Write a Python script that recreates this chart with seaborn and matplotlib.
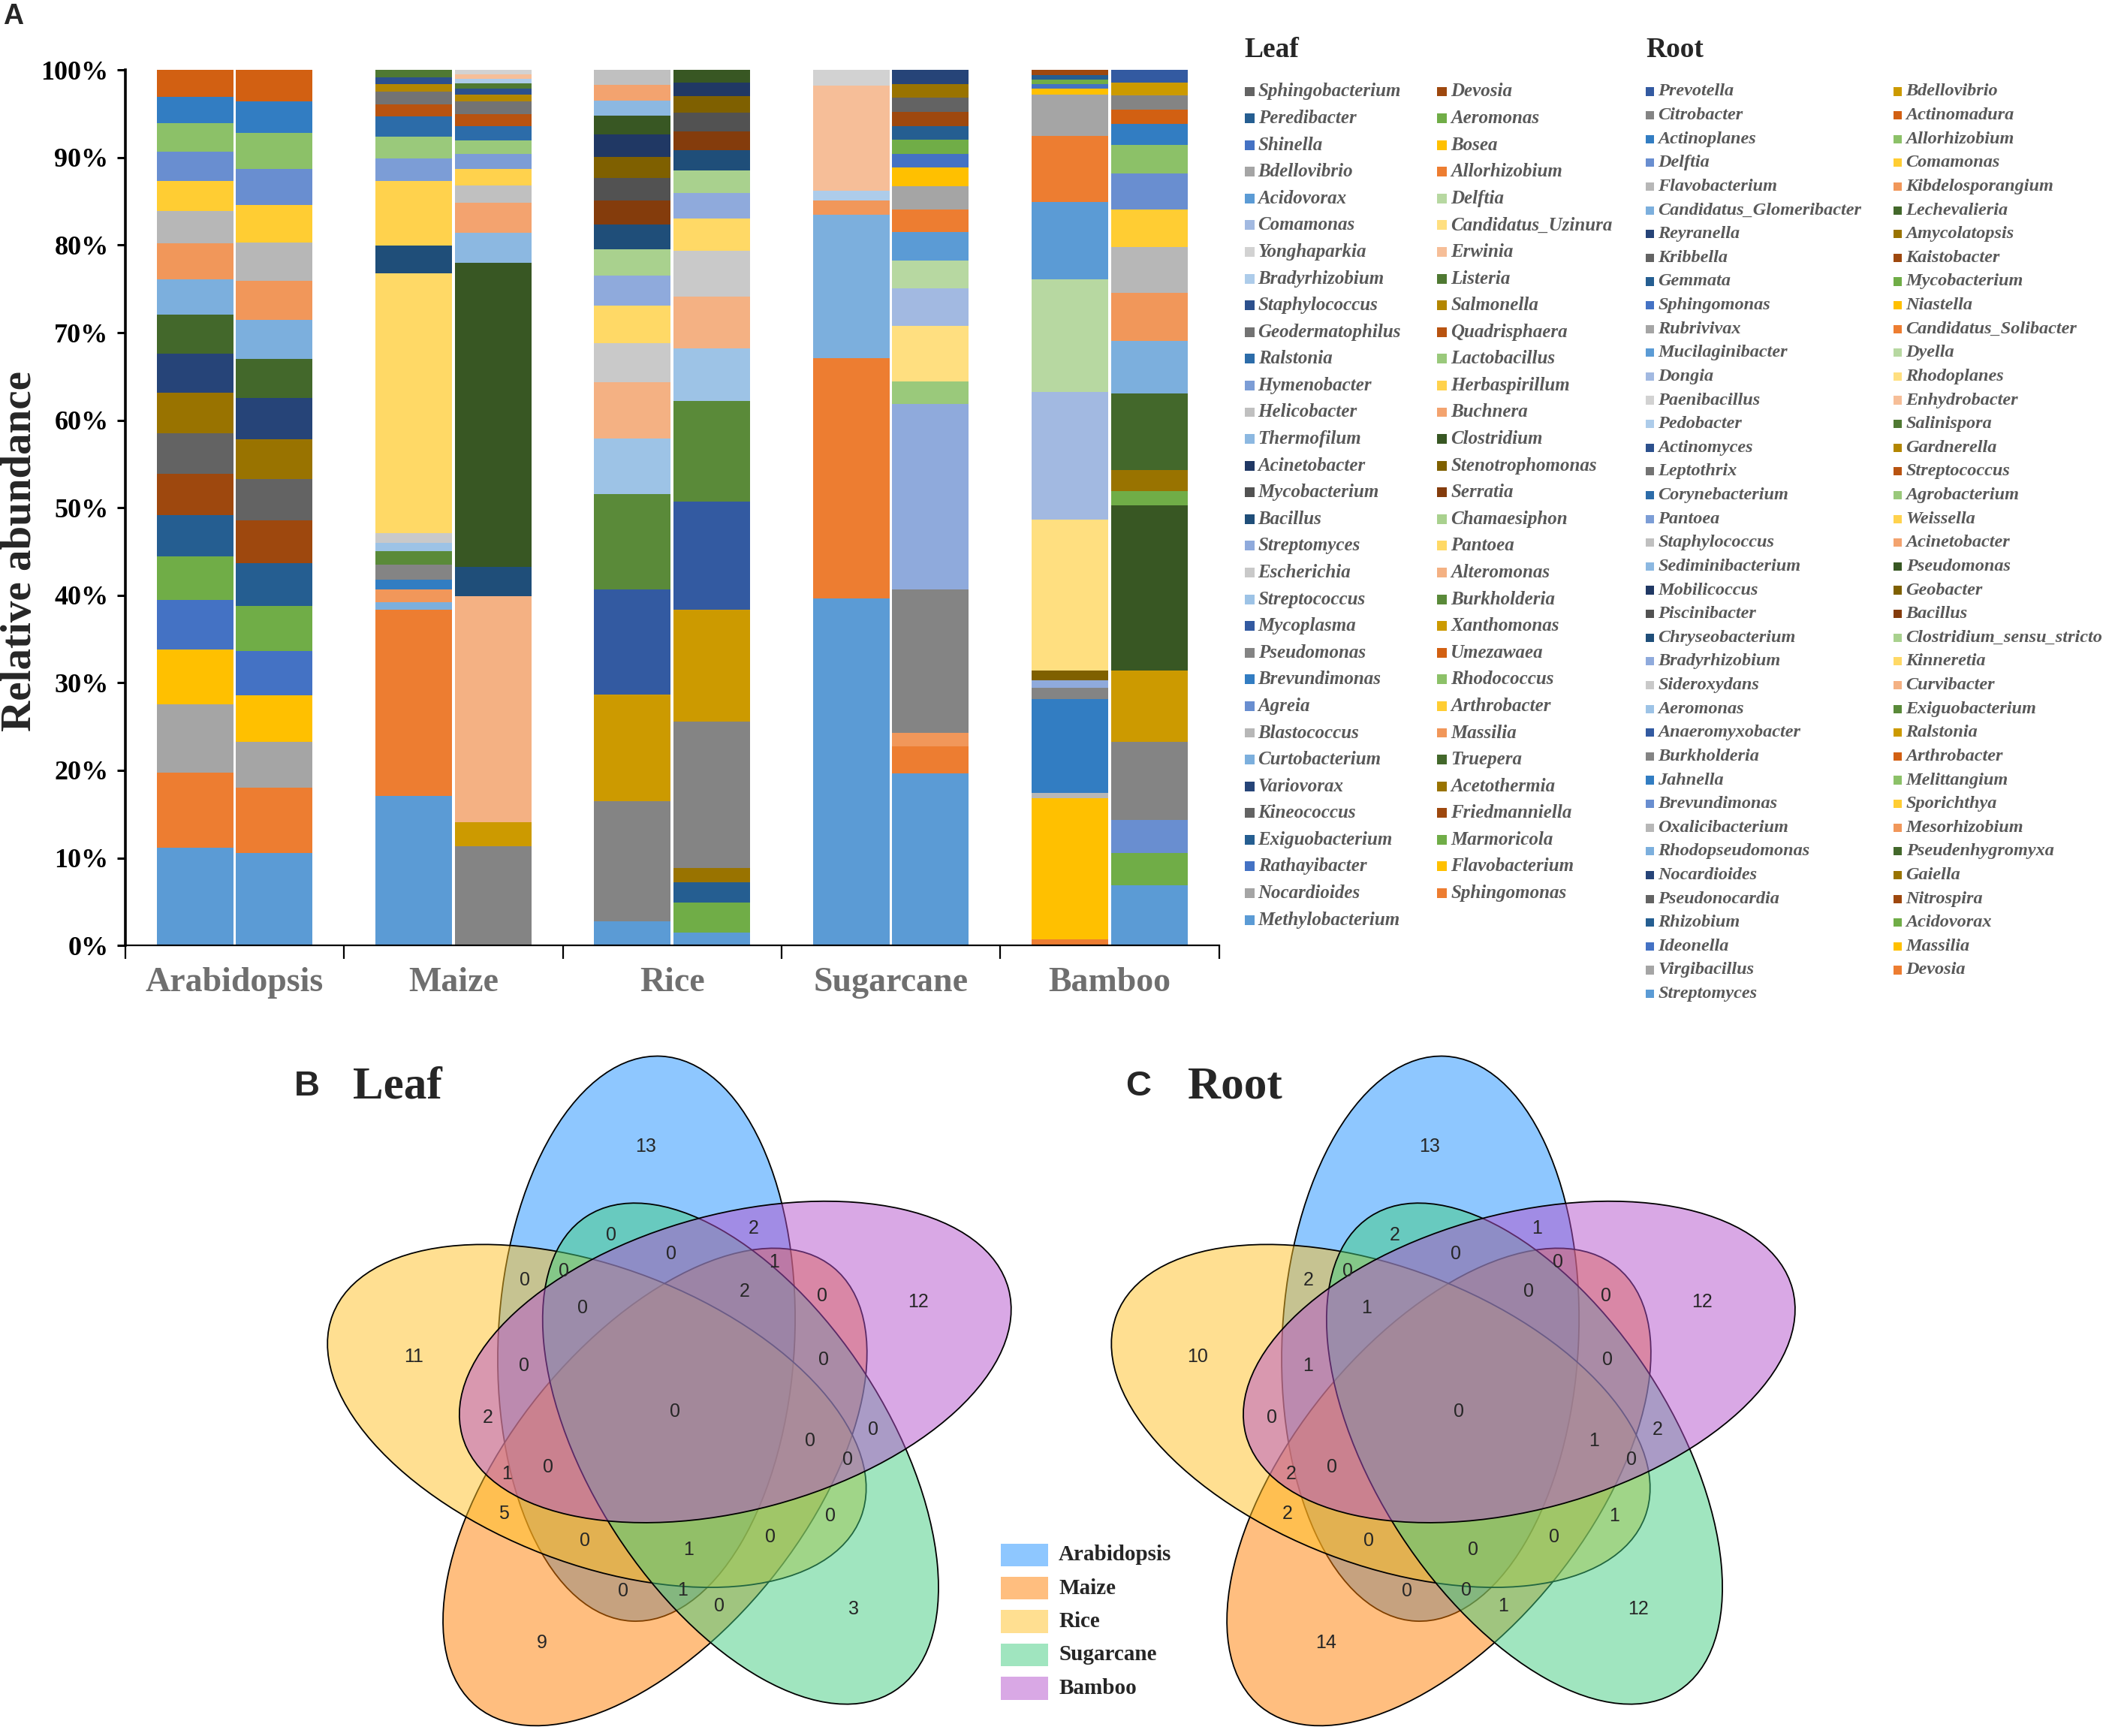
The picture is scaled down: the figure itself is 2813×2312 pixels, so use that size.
import numpy as np
import pandas as pd
import matplotlib
matplotlib.use("Agg")
import matplotlib.pyplot as plt
from matplotlib.patches import Ellipse, Rectangle
from matplotlib.colors import to_rgba
import seaborn as sns

# ------------------------------------------------------------------ data
plants = ["Arabidopsis", "Maize", "Rice", "Sugarcane", "Bamboo"]

# genera in stacking order (first one sits at the bottom of the bar)
leaf_genera = [
    "Methylobacterium", "Sphingomonas", "Nocardioides", "Flavobacterium",
    "Rathayibacter", "Marmoricola", "Exiguobacterium", "Friedmanniella",
    "Kineococcus", "Acetothermia", "Variovorax", "Truepera", "Curtobacterium",
    "Massilia", "Blastococcus", "Arthrobacter", "Agreia", "Rhodococcus",
    "Brevundimonas", "Umezawaea", "Pseudomonas", "Xanthomonas", "Mycoplasma",
    "Burkholderia", "Streptococcus", "Alteromonas", "Escherichia", "Pantoea",
    "Streptomyces", "Chamaesiphon", "Bacillus", "Serratia", "Mycobacterium",
    "Stenotrophomonas", "Acinetobacter", "Clostridium", "Thermofilum",
    "Buchnera", "Helicobacter", "Herbaspirillum", "Hymenobacter",
    "Lactobacillus", "Ralstonia", "Quadrisphaera", "Geodermatophilus",
    "Salmonella", "Staphylococcus", "Listeria", "Bradyrhizobium", "Erwinia",
    "Yonghaparkia", "Candidatus_Uzinura", "Comamonas", "Delftia", "Acidovorax",
    "Allorhizobium", "Bdellovibrio", "Bosea", "Shinella", "Aeromonas",
    "Peredibacter", "Devosia", "Sphingobacterium"]

root_genera = [
    "Streptomyces", "Devosia", "Virgibacillus", "Massilia", "Ideonella",
    "Acidovorax", "Rhizobium", "Nitrospira", "Pseudonocardia", "Gaiella",
    "Nocardioides", "Pseudenhygromyxa", "Rhodopseudomonas", "Mesorhizobium",
    "Oxalicibacterium", "Sporichthya", "Brevundimonas", "Melittangium",
    "Jahnella", "Arthrobacter", "Burkholderia", "Ralstonia", "Anaeromyxobacter",
    "Exiguobacterium", "Aeromonas", "Curvibacter", "Sideroxydans", "Kinneretia",
    "Bradyrhizobium", "Clostridium_sensu_stricto", "Chryseobacterium",
    "Bacillus", "Piscinibacter", "Geobacter", "Mobilicoccus", "Pseudomonas",
    "Sediminibacterium", "Acinetobacter", "Staphylococcus", "Weissella",
    "Pantoea", "Agrobacterium", "Corynebacterium", "Streptococcus",
    "Leptothrix", "Gardnerella", "Actinomyces", "Salinispora", "Pedobacter",
    "Enhydrobacter", "Paenibacillus", "Rhodoplanes", "Dongia", "Dyella",
    "Mucilaginibacter", "Candidatus_Solibacter", "Rubrivivax", "Niastella",
    "Sphingomonas", "Mycobacterium", "Gemmata", "Kaistobacter", "Kribbella",
    "Amycolatopsis", "Reyranella", "Lechevalieria", "Candidatus_Glomeribacter",
    "Kibdelosporangium", "Flavobacterium", "Comamonas", "Delftia",
    "Allorhizobium", "Actinoplanes", "Actinomadura", "Citrobacter",
    "Bdellovibrio", "Prevotella"]

# relative abundance (%) of the genera present in each bar
leaf_arabidopsis = {
    "Methylobacterium": 11.2, "Sphingomonas": 8.6, "Nocardioides": 7.8,
    "Flavobacterium": 6.2, "Rathayibacter": 5.7, "Marmoricola": 5.0,
    "Exiguobacterium": 4.7, "Friedmanniella": 4.7, "Kineococcus": 4.7,
    "Acetothermia": 4.6, "Variovorax": 4.5, "Truepera": 4.4,
    "Curtobacterium": 4.1, "Massilia": 4.1, "Blastococcus": 3.7,
    "Arthrobacter": 3.4, "Agreia": 3.4, "Rhodococcus": 3.2,
    "Brevundimonas": 3.0, "Umezawaea": 3.1}
leaf_maize = {
    "Methylobacterium": 17.1, "Sphingomonas": 21.4, "Curtobacterium": 0.8,
    "Massilia": 1.5, "Brevundimonas": 1.1, "Pseudomonas": 1.7,
    "Burkholderia": 1.6, "Streptococcus": 0.9, "Escherichia": 1.1,
    "Pantoea": 29.8, "Bacillus": 3.2, "Herbaspirillum": 7.4,
    "Hymenobacter": 2.6, "Lactobacillus": 2.5, "Ralstonia": 2.3,
    "Quadrisphaera": 1.4, "Geodermatophilus": 1.4, "Salmonella": 0.9,
    "Staphylococcus": 0.8, "Listeria": 0.8}
leaf_rice = {
    "Methylobacterium": 2.8, "Pseudomonas": 13.7, "Xanthomonas": 12.2,
    "Mycoplasma": 12.0, "Burkholderia": 10.9, "Streptococcus": 6.4,
    "Alteromonas": 6.4, "Escherichia": 4.5, "Pantoea": 4.3,
    "Streptomyces": 3.4, "Chamaesiphon": 3.0, "Bacillus": 2.8,
    "Serratia": 2.8, "Mycobacterium": 2.6, "Stenotrophomonas": 2.4,
    "Acinetobacter": 2.5, "Clostridium": 2.2, "Thermofilum": 1.7,
    "Buchnera": 1.8, "Helicobacter": 1.7}
leaf_sugarcane = {
    "Methylobacterium": 39.6, "Sphingomonas": 27.5, "Curtobacterium": 16.4,
    "Massilia": 1.6, "Bradyrhizobium": 1.1, "Erwinia": 12.0,
    "Yonghaparkia": 1.8}
leaf_bamboo = {
    "Sphingomonas": 0.7, "Flavobacterium": 16.1, "Blastococcus": 0.6,
    "Brevundimonas": 10.8, "Pseudomonas": 1.3, "Streptomyces": 0.8,
    "Stenotrophomonas": 1.1, "Candidatus_Uzinura": 17.3, "Comamonas": 14.6,
    "Delftia": 12.9, "Acidovorax": 8.8, "Allorhizobium": 7.6,
    "Bdellovibrio": 4.7, "Bosea": 0.7, "Shinella": 0.5, "Aeromonas": 0.5,
    "Peredibacter": 0.5, "Devosia": 0.6}

root_arabidopsis = {
    "Streptomyces": 10.6, "Devosia": 7.4, "Virgibacillus": 5.3,
    "Massilia": 5.3, "Ideonella": 5.1, "Acidovorax": 5.1, "Rhizobium": 4.9,
    "Nitrospira": 4.9, "Pseudonocardia": 4.7, "Gaiella": 4.6,
    "Nocardioides": 4.7, "Pseudenhygromyxa": 4.5, "Rhodopseudomonas": 4.4,
    "Mesorhizobium": 4.5, "Oxalicibacterium": 4.4, "Sporichthya": 4.3,
    "Brevundimonas": 4.1, "Melittangium": 4.1, "Jahnella": 3.6,
    "Arthrobacter": 3.6}
root_maize = {
    "Burkholderia": 11.3, "Ralstonia": 2.8, "Curvibacter": 25.8,
    "Chryseobacterium": 3.3, "Pseudomonas": 34.8, "Sediminibacterium": 3.4,
    "Acinetobacter": 3.4, "Staphylococcus": 2.0, "Weissella": 1.9,
    "Pantoea": 1.7, "Agrobacterium": 1.6, "Corynebacterium": 1.6,
    "Streptococcus": 1.4, "Leptothrix": 1.4, "Gardnerella": 0.8,
    "Actinomyces": 0.7, "Salinispora": 0.6, "Pedobacter": 0.5,
    "Enhydrobacter": 0.5, "Paenibacillus": 0.5}
root_rice = {
    "Streptomyces": 1.5, "Acidovorax": 3.4, "Rhizobium": 2.3, "Gaiella": 1.7,
    "Burkholderia": 16.7, "Ralstonia": 12.8, "Anaeromyxobacter": 12.4,
    "Exiguobacterium": 11.5, "Aeromonas": 6.0, "Curvibacter": 6.0,
    "Sideroxydans": 5.2, "Kinneretia": 3.7, "Bradyrhizobium": 2.9,
    "Clostridium_sensu_stricto": 2.6, "Chryseobacterium": 2.3, "Bacillus": 2.2,
    "Piscinibacter": 2.1, "Geobacter": 1.9, "Mobilicoccus": 1.6,
    "Pseudomonas": 1.4}
root_sugarcane = {
    "Streptomyces": 19.7, "Devosia": 3.1, "Mesorhizobium": 1.6,
    "Burkholderia": 16.4, "Bradyrhizobium": 21.2, "Agrobacterium": 2.6,
    "Rhodoplanes": 6.4, "Dongia": 4.3, "Dyella": 3.2, "Mucilaginibacter": 3.2,
    "Candidatus_Solibacter": 2.6, "Rubrivivax": 2.7, "Niastella": 2.1,
    "Sphingomonas": 1.6, "Mycobacterium": 1.6, "Gemmata": 1.6,
    "Kaistobacter": 1.6, "Kribbella": 1.6, "Amycolatopsis": 1.6,
    "Reyranella": 1.6}
root_bamboo = {
    "Streptomyces": 6.9, "Acidovorax": 3.7, "Brevundimonas": 3.8,
    "Burkholderia": 8.9, "Ralstonia": 8.2, "Pseudomonas": 18.9,
    "Mycobacterium": 1.6, "Amycolatopsis": 2.4, "Lechevalieria": 8.8,
    "Candidatus_Glomeribacter": 6.0, "Kibdelosporangium": 5.5,
    "Flavobacterium": 5.2, "Comamonas": 4.3, "Delftia": 4.2,
    "Allorhizobium": 3.2, "Actinoplanes": 2.4, "Actinomadura": 1.7,
    "Citrobacter": 1.6, "Bdellovibrio": 1.5, "Prevotella": 1.4}

# Venn counts; sets are listed clockwise starting at the top of the diagram
venn_sets = ["Arabidopsis", "Bamboo", "Sugarcane", "Maize", "Rice"]
leaf_only = [13, 12, 3, 9, 11]
leaf_pair_adjacent = [2, 0, 0, 5, 0]   # set k & set k+1
leaf_pair_opposite = [0, 0, 0, 0, 2]   # set k & set k+2
leaf_triple_run = [0, 0, 0, 0, 0]      # sets k, k+1, k+2
leaf_triple_split = [1, 0, 1, 1, 0]    # sets k, k+1, k+3
leaf_all_but = [0, 1, 0, 0, 2]         # every set except set k
leaf_all = 0
root_only = [13, 12, 12, 14, 10]
root_pair_adjacent = [1, 2, 1, 2, 2]
root_pair_opposite = [2, 0, 1, 0, 0]
root_triple_run = [0, 0, 0, 0, 1]
root_triple_split = [0, 0, 0, 2, 0]
root_all_but = [1, 0, 0, 1, 0]
root_all = 0

# ------------------------------------------------------------------ style
office_colors = [
    "#5B9BD5", "#ED7D31", "#A5A5A5", "#FFC000", "#4472C4", "#70AD47",
    "#255E91", "#9E480E", "#636363", "#997300", "#264478", "#43682B",
    "#7CAFDD", "#F1975A", "#B7B7B7", "#FFCD33", "#698ED0", "#8CC168",
    "#327DC2", "#D26012", "#848484", "#CC9A00", "#335AA1", "#5A8A39",
    "#9DC3E6", "#F4B183", "#C9C9C9", "#FFD966", "#8FAADC", "#A9D18E",
    "#1F4E79", "#843C0C", "#525252", "#7F6000", "#203864", "#385723",
    "#8CB8E1", "#F3A36F", "#C0C0C0", "#FFD24D", "#7C9DD6", "#9AC97B",
    "#2C6CA9", "#B85310", "#737373", "#B38600", "#2C508D", "#4F7932",
    "#ADCCEA", "#F6BE98", "#D2D2D2", "#FFDF80", "#A2B9E1", "#B7D8A1"]
venn_colors = {"Arabidopsis": "#1E90FF", "Maize": "#FF7F00",
               "Rice": "#FFC125", "Sugarcane": "#43CD80", "Bamboo": "#B452CD"}

sns.set_theme(style="white")
plt.rcParams["font.family"] = ["Liberation Serif", "DejaVu Serif"]

W, H = 1568, 1289  # page units


def page_rect(x0, y0, x1, y1):
    return [x0 / W, 1 - y1 / H, (x1 - x0) / W, (y1 - y0) / H]


def build_table(bars, genera):
    for b in bars:
        missing = set(b) - set(genera)
        assert not missing, missing
    t = pd.DataFrame(bars, index=plants, columns=genera).fillna(0.0)
    return t.div(t.sum(axis=1), axis=0) * 100


leaf_table = build_table([leaf_arabidopsis, leaf_maize, leaf_rice,
                          leaf_sugarcane, leaf_bamboo], leaf_genera)
root_table = build_table([root_arabidopsis, root_maize, root_rice,
                          root_sugarcane, root_bamboo], root_genera)

fig = plt.figure(figsize=(28.13, 23.12), dpi=100)

# ------------------------------------------------------------------ panel A
ax = fig.add_axes(page_rect(93, 52, 905, 702))
xpos = np.arange(len(plants))
for table, offset in [(leaf_table, -0.181), (root_table, 0.181)]:
    bottom = np.zeros(len(plants))
    for i, genus in enumerate(table.columns):
        vals = table[genus].to_numpy()
        ax.bar(xpos + offset, vals, bottom=bottom, width=0.35,
               color=office_colors[i % len(office_colors)], linewidth=0)
        bottom += vals

ax.set_xlim(-0.5, 4.5)
ax.set_ylim(0, 100)
ax.set_yticks(range(0, 101, 10))
ax.set_yticklabels([f"{v}%" for v in range(0, 101, 10)],
                   fontsize=26, fontweight="bold", color="black")
ax.set_xticks(xpos)
ax.set_xticklabels(plants, fontsize=33, fontweight="bold", color="#6f6f6f")
ax.set_xticks(np.arange(-0.5, 5, 1), minor=True)
ax.tick_params(axis="x", which="major", length=0, pad=21)
ax.tick_params(axis="x", which="minor", length=13, width=1.6,
               direction="out", color="black", bottom=True)
ax.tick_params(axis="y", length=8, width=2.2, direction="out", pad=8,
               color="black", left=True)
sns.despine(ax=ax)
ax.spines["left"].set_linewidth(2.6)
ax.spines["left"].set_color("black")
ax.spines["bottom"].set_linewidth(1.6)
ax.spines["bottom"].set_color("black")
ax.grid(False)

# overlay in page units for legends, Venn diagrams and labels
ov = fig.add_axes([0, 0, 1, 1])
ov.set_xlim(0, W)
ov.set_ylim(H, 0)
ov.axis("off")

ov.text(10, 12, "A", fontsize=27, fontweight="bold", family="Liberation Sans",
        ha="center", va="center")
ov.text(15, 409, "Relative abundance", rotation=90, fontsize=41,
        fontweight="bold", ha="center", va="center")


def draw_legend(title, genera, x_cols, y0, dy, box, size):
    ov.text(x_cols[0], 37, title, fontsize=27, fontweight="bold",
            ha="left", va="center")
    n = len(genera)
    for pos, idx in enumerate(range(n - 1, -1, -1)):
        row, col = divmod(pos, 2)
        x = x_cols[col]
        y = y0 + row * dy
        ov.add_patch(Rectangle((x, y - box / 2), box, box, linewidth=0,
                               color=office_colors[idx % len(office_colors)]))
        ov.text(x + box + 2.8, y, genera[idx], fontsize=size, fontweight="bold",
                fontstyle="italic", color="#595959", ha="left", va="center")


draw_legend("Leaf", leaf_genera, (924, 1067), 68, 19.84, 7.2, 18)
draw_legend("Root", root_genera, (1222, 1406), 68, 17.63, 6.2, 17.5)

# ------------------------------------------------------------------ panels B, C
DIST, PHI0, PSI0 = 58, -21.3, 3.0     # ellipse centre offset / rotation
SEMI_MINOR, SEMI_MAJOR = 110, 210
LABEL_ANGLE0 = -6.2
label_layout = {  # (angle offset in degrees, radius)
    "only": (0.0, 198), "pair_adjacent": (29.4, 148),
    "pair_opposite": (-13.8, 139), "triple_run": (5.0, 117),
    "triple_split": (39.8, 133), "all_but": (108.4, 103)}


def draw_venn(cx, cy, counts, centre_count):
    for name in ["Arabidopsis", "Maize", "Rice", "Sugarcane", "Bamboo"]:
        k = venn_sets.index(name)
        phi = np.radians(PHI0 + 72 * k)
        ex, ey = cx + DIST * np.sin(phi), cy - DIST * np.cos(phi)
        ov.add_patch(Ellipse((ex, ey), 2 * SEMI_MINOR, 2 * SEMI_MAJOR,
                             angle=PSI0 + 72 * k,
                             facecolor=to_rgba(venn_colors[name], 0.5),
                             edgecolor="black", linewidth=1.3))
    for key, values in counts.items():
        off, r = label_layout[key]
        for k, v in enumerate(values):
            t = np.radians(LABEL_ANGLE0 + 72 * k + off)
            ov.text(cx + r * np.sin(t), cy - r * np.cos(t), str(v),
                    fontsize=18, family="Liberation Sans", ha="center",
                    va="center")
    ov.text(cx, cy, str(centre_count), fontsize=18, family="Liberation Sans",
            ha="center", va="center")


draw_venn(501, 1048, {"only": leaf_only, "pair_adjacent": leaf_pair_adjacent,
                      "pair_opposite": leaf_pair_opposite,
                      "triple_run": leaf_triple_run,
                      "triple_split": leaf_triple_split,
                      "all_but": leaf_all_but}, leaf_all)
draw_venn(1083, 1048, {"only": root_only, "pair_adjacent": root_pair_adjacent,
                       "pair_opposite": root_pair_opposite,
                       "triple_run": root_triple_run,
                       "triple_split": root_triple_split,
                       "all_but": root_all_but}, root_all)

ov.text(228, 807, "B", fontsize=34, fontweight="bold", family="Liberation Sans",
        ha="center", va="center")
ov.text(262, 807, "Leaf", fontsize=44, fontweight="bold", ha="left", va="center")
ov.text(845, 807, "C", fontsize=34, fontweight="bold", family="Liberation Sans",
        ha="center", va="center")
ov.text(882, 807, "Root", fontsize=44, fontweight="bold", ha="left", va="center")

for i, name in enumerate(["Arabidopsis", "Maize", "Rice", "Sugarcane", "Bamboo"]):
    yc = 1154.5 + i * 24.75
    ov.add_patch(Rectangle((743, yc - 8.5), 35, 17, linewidth=0,
                           facecolor=to_rgba(venn_colors[name], 0.5)))
    ov.text(786, yc, name, fontsize=21, fontweight="bold", ha="left",
            va="center")

fig.savefig("out.png", dpi=100)
